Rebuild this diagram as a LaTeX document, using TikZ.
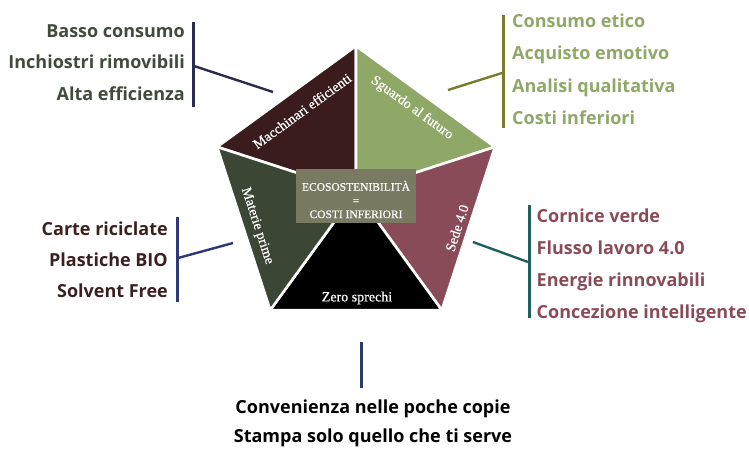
\documentclass[tikz,border=0pt]{standalone}
\usepackage{fontspec}
\setmainfont{Liberation Serif}
\newfontfamily\labelfont{Liberation Serif}[FakeBold=0.5]
\newfontfamily\listfont{Open Sans}
\definecolor{cbrown}{HTML}{3B1C1C}
\definecolor{clight}{HTML}{8FA867}
\definecolor{crose}{HTML}{8A4B58}
\definecolor{cdark}{HTML}{3B4634}
\definecolor{cbox}{HTML}{7A7A62}
\definecolor{ctl}{HTML}{404B3B}
\definecolor{clm}{HTML}{3C2020}
\definecolor{btl}{HTML}{2B2B50}
\definecolor{btr}{HTML}{7B7B2F}
\definecolor{blm}{HTML}{2E3A77}
\definecolor{br}{HTML}{1F5F5E}
\definecolor{bb}{HTML}{2E3A68}
\begin{document}
\begin{tikzpicture}[x=1pt,y=-1pt,
  piece/.style={draw=white,line width=2.6pt,line join=round},
  plabel/.style={text=white,font=\labelfont\fontsize{14}{15}\selectfont,inner sep=0pt},
  item/.style={font=\listfont\bfseries\fontsize{18}{20}\selectfont,inner sep=0pt},
  bar/.style={line width=3pt},
  link/.style={line width=2.4pt}]
\useasboundingbox (0,0) rectangle (749,448);
% pentagon geometry
\coordinate (C) at (356,192);
\coordinate (V0) at (356,46);
\coordinate (V1) at (217.1,146.9);
\coordinate (V2) at (270.2,310.1);
\coordinate (V3) at (441.8,310.1);
\coordinate (V4) at (494.9,146.9);
\fill[cbrown,piece] (C) -- (V0) -- (V1) -- cycle;
\fill[clight,piece] (C) -- (V4) -- (V0) -- cycle;
\fill[crose,piece] (C) -- (V3) -- (V4) -- cycle;
\fill[black,piece] (C) -- (V2) -- (V3) -- cycle;
\fill[cdark,piece] (C) -- (V1) -- (V2) -- cycle;
% piece labels
\node[plabel,rotate=36] (lmac) at (302,111) {Macchinari efficienti};
\node[plabel,rotate=-36] (lsgu) at (412,108) {Sguardo al futuro};
\node[plabel,rotate=72] (lsed) at (457,228) {Sede 4.0};
\node[plabel,rotate=-72] (lmat) at (257,226) {Materie prime};
\node[plabel] (lzer) at (357,298) {Zero sprechi};
% centre box
\node[fill=cbox,minimum width=120pt,minimum height=54pt,inner sep=0pt] (box) at (356,196) {};
\node[text=white,align=center,inner sep=0pt,font=\labelfont\fontsize{11.5}{13.7}\selectfont] (boxt) at (356,199.5) {ECOSOSTENIBILITÀ\\=\\COSTI INFERIORI};
% top-left list
\node[item,text=ctl,anchor=base east] (tl1) at (185,37) {Basso consumo};
\node[item,text=ctl,anchor=base east] (tl2) at (185,68.5) {Inchiostri rimovibili};
\node[item,text=ctl,anchor=base east] (tl3) at (185,100) {Alta efficienza};
\coordinate (tlA) at (193,22);
\coordinate (tlB) at (193,107);
\coordinate (tlM) at (194,66);
\coordinate (tlE) at (273,92);
\draw[bar,btl] (tlA) -- (tlB);
\draw[link,btl] (tlM) -- (tlE);
% top-right list
\node[item,text=clight,anchor=base west] (tr1) at (512,27) {Consumo etico};
\node[item,text=clight,anchor=base west] (tr2) at (512,59.5) {Acquisto emotivo};
\node[item,text=clight,anchor=base west] (tr3) at (512,92) {Analisi qualitativa};
\node[item,text=clight,anchor=base west] (tr4) at (512,124) {Costi inferiori};
\coordinate (trA) at (503,15);
\coordinate (trB) at (503,128);
\coordinate (trM) at (502,73);
\coordinate (trE) at (448,90);
\draw[bar,btr] (trA) -- (trB);
\draw[link,btr] (trM) -- (trE);
% left list
\node[item,text=clm,anchor=base east] (lm1) at (168,235) {Carte riciclate};
\node[item,text=clm,anchor=base east] (lm2) at (168,266.5) {Plastiche BIO};
\node[item,text=clm,anchor=base east] (lm3) at (168,297.5) {Solvent Free};
\coordinate (lmA) at (177,217);
\coordinate (lmB) at (177,302);
\coordinate (lmM) at (178,258);
\coordinate (lmE) at (233,243);
\draw[bar,blm] (lmA) -- (lmB);
\draw[link,blm] (lmM) -- (lmE);
% right list
\node[item,text=crose,anchor=base west] (r1) at (536.5,222.5) {Cornice verde};
\node[item,text=crose,anchor=base west] (r2) at (536.5,254.5) {Flusso lavoro 4.0};
\node[item,text=crose,anchor=base west] (r3) at (536.5,286.5) {Energie rinnovabili};
\node[item,text=crose,anchor=base west] (r4) at (536.5,318.5) {Concezione intelligente};
\coordinate (rA) at (529,205);
\coordinate (rB) at (529,318);
\coordinate (rM) at (528,262);
\coordinate (rE) at (473,242);
\draw[bar,br] (rA) -- (rB);
\draw[link,br] (rM) -- (rE);
% bottom
\coordinate (bA) at (361,342);
\coordinate (bB) at (361,388);
\draw[bar,bb] (bA) -- (bB);
\node[item,text=black,anchor=base] (b1) at (373,413.5) {Convenienza nelle poche copie};
\node[item,text=black,anchor=base] (b2) at (373,442.5) {Stampa solo quello che ti serve};
\end{tikzpicture}
\end{document}
